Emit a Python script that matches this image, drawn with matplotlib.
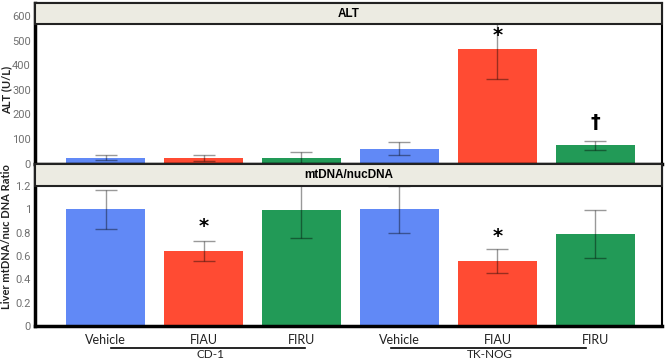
import numpy as np
import matplotlib
matplotlib.use('Agg')
import matplotlib.pyplot as plt
from matplotlib.patches import Rectangle
import matplotlib.transforms as mtransforms

# Data
groups = ['Vehicle', 'FIAU', 'FIRU', 'Vehicle', 'FIAU', 'FIRU']
strains = ['CD-1', 'TK-NOG']
colors = ['#6189f6', '#ff4b33', '#229a57', '#6189f6', '#ff4b33', '#229a57']

alt_mean = [24, 23, 23, 61, 465, 75]
alt_err = [10, 13, 23, 25, 120, 18]
alt_marks = ['', '', '', '', '*', '\u2020']
alt_mark_y = [0, 0, 0, 0, 520, 166]

mt_mean = [1.0, 0.644, 0.996, 1.0, 0.558, 0.787]
mt_err = [0.165, 0.085, 0.24, 0.2, 0.105, 0.205]
mt_marks = ['', '*', '', '', '*', '']
mt_mark_y = [0, 0.85, 0, 0, 0.77, 0]

plt.rcParams['font.family'] = ['Lato', 'DejaVu Sans']

fig = plt.figure(figsize=(6.67, 3.59), dpi=100)
ax1 = fig.add_axes([0.0525, 0.543, 0.940, 0.4485])
ax2 = fig.add_axes([0.0525, 0.092, 0.940, 0.451])

x = np.arange(len(groups))
strip_col = '#ecebe2'


def draw_panel(ax, mean, err, marks, mark_y, ylim, ticks, ticklabels, strip_h, title):
    ax.bar(x, mean, width=0.8, color=colors, zorder=2)
    ax.errorbar(x, mean, yerr=err, fmt='none', ecolor='black', alpha=0.4,
                elinewidth=1, capsize=8, capthick=1, zorder=3)
    for xi, s, my in zip(x, marks, mark_y):
        if s:
            ax.text(xi, my, s, ha='center', va='center', fontsize=14,
                    fontweight='bold', family='DejaVu Sans', zorder=5)
    ax.set_xlim(-0.72, 5.68)
    ax.set_ylim(*ylim)
    ax.set_yticks(ticks)
    ax.set_yticklabels(ticklabels, color='#707070', fontsize=8, family='Roboto')
    ax.tick_params(axis='y', length=0, pad=3)
    # grey strip with the panel title
    ax.add_patch(Rectangle((0, 1 - strip_h), 1, strip_h, transform=ax.transAxes,
                           facecolor=strip_col, edgecolor='#222222', lw=1.5,
                           zorder=6, clip_on=False))
    ax.text(0.5, 1 - strip_h / 2, title, transform=ax.transAxes, ha='center',
            va='center', fontsize=8.5, fontweight='bold', family='Liberation Sans',
            zorder=7)
    for sp in ['top', 'right']:
        ax.spines[sp].set_linewidth(1.5)
    for sp in ['left', 'bottom']:
        ax.spines[sp].set_linewidth(2.5)


draw_panel(ax1, alt_mean, alt_err, alt_marks, alt_mark_y, (-2, 654),
           [0, 100, 200, 300, 400, 500, 600], ['0', '100', '200', '300', '400', '500', '600'],
           0.13, 'ALT')
ax1.set_xticks([])
ax1.set_ylabel('ALT (U/L)', fontsize=8, fontweight='bold', color='#222222')
ax1.yaxis.set_label_coords(-0.036, 0.46)

draw_panel(ax2, mt_mean, mt_err, mt_marks, mt_mark_y, (0, 1.39),
           [0, 0.2, 0.4, 0.6, 0.8, 1.0, 1.2], ['0', '0.2', '0.4', '0.6', '0.8', '1', '1.2'],
           0.136, 'mtDNA/nucDNA')
ax2.set_ylabel('Liver mtDNA/nuc DNA Ratio', fontsize=8, fontweight='bold',
               color='#222222')
ax2.yaxis.set_label_coords(-0.036, 0.55)
ax2.set_xticks(x)
ax2.set_xticklabels(groups, fontsize=9, color='#222222')
ax2.tick_params(axis='x', length=0, pad=6)

# strain brackets under the x labels
trans = mtransforms.blended_transform_factory(ax2.transData, ax2.transAxes)
for (x0, x1), name in zip([(0.06, 2.04), (2.91, 4.9)], strains):
    ax2.plot([x0, x1], [-0.134, -0.134], color='black', lw=1.2,
             transform=trans, clip_on=False)
    ax2.text((x0 + x1) / 2 + 0.02, -0.145, name, transform=trans, ha='center',
             va='top', fontsize=8.5, color='#222222')

fig.savefig('out.png', dpi=100)
